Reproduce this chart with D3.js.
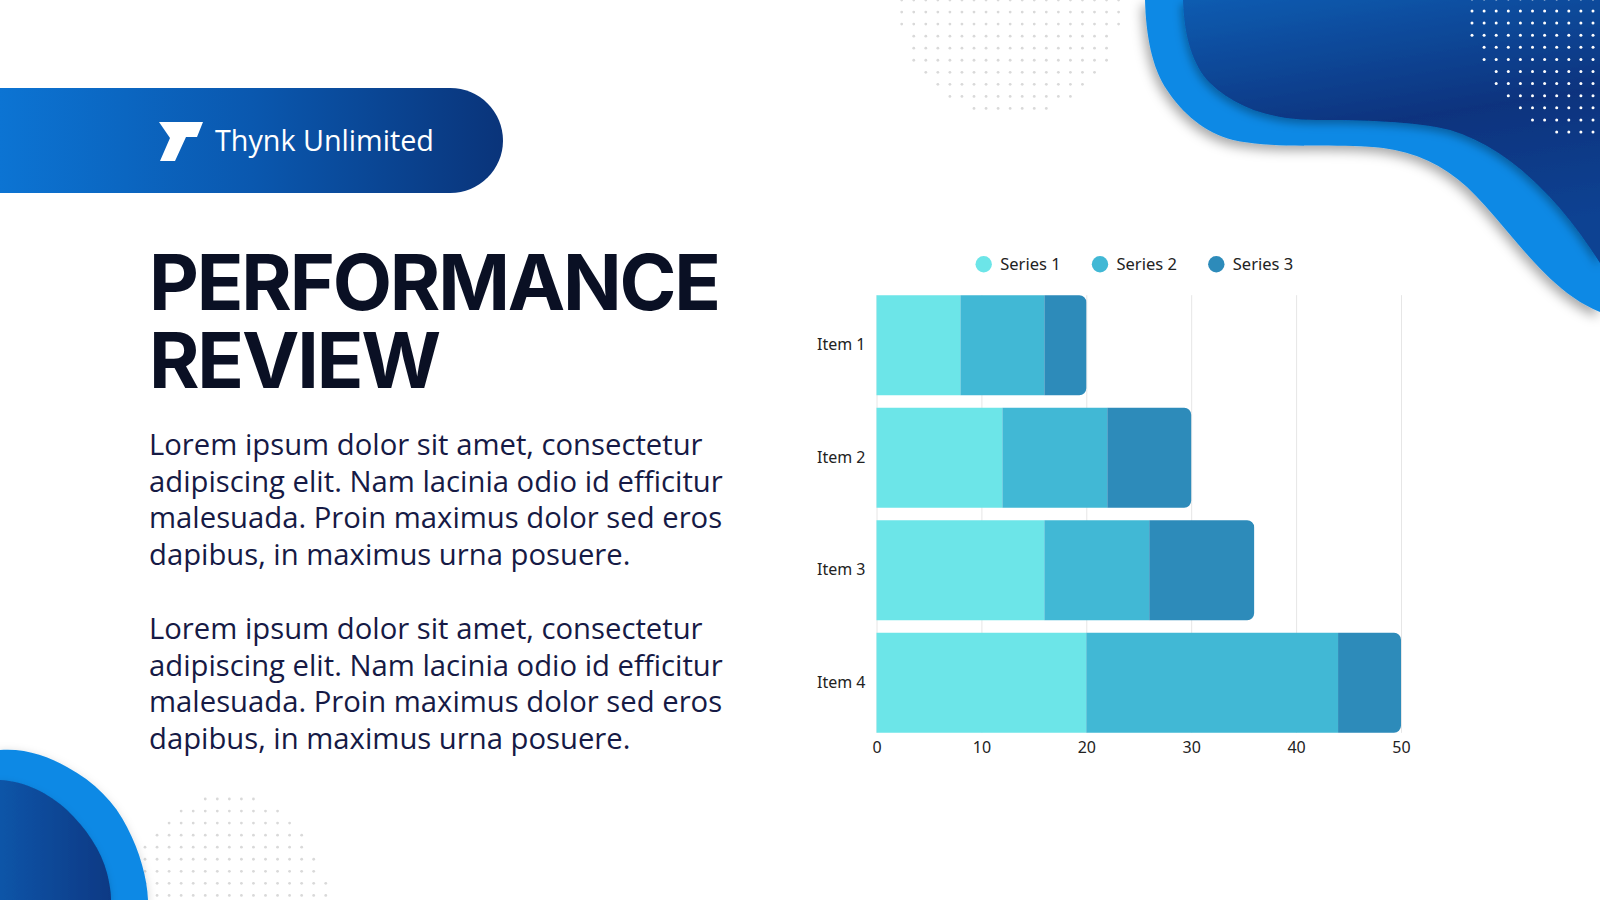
<!DOCTYPE html>
<html>
<head>
<meta charset="utf-8">
<script src="https://cdn.jsdelivr.net/npm/d3@7"></script>
<style>
  html, body { margin: 0; padding: 0; background: #ffffff; }
  svg { display: block; }
</style>
</head>
<body>
<div id="vis"></div>
<script>
// chart data
const items = ["Item 1", "Item 2", "Item 3", "Item 4"];
const seriesNames = ["Series 1", "Series 2", "Series 3"];
const series1 = [8, 12, 16, 20];
const series2 = [8, 10, 10, 24];
const series3 = [4, 8, 10, 6];
const xTicks = [0, 10, 20, 30, 40, 50];
const seriesColors = ["#6ce5e8", "#41b8d5", "#2d8bba"];

// slide texts
const brandName = "Thynk Unlimited";
const titleLines = ["PERFORMANCE", "REVIEW"];
const paragraph1 = [
  "Lorem ipsum dolor sit amet, consectetur",
  "adipiscing elit. Nam lacinia odio id efficitur",
  "malesuada. Proin maximus dolor sed eros",
  "dapibus, in maximus urna posuere."
];
const paragraph2 = [
  "Lorem ipsum dolor sit amet, consectetur",
  "adipiscing elit. Nam lacinia odio id efficitur",
  "malesuada. Proin maximus dolor sed eros",
  "dapibus, in maximus urna posuere."
];

const width = 1600;
const height = 900;

const svg = d3.select("#vis")
  .append("svg")
  .attr("width", width)
  .attr("height", height)
  .attr("viewBox", `0 0 ${width} ${height}`);

const defs = svg.append("defs");

function linearGradient(id, x1, y1, x2, y2, stops) {
  const g = defs.append("linearGradient")
    .attr("id", id)
    .attr("x1", x1).attr("y1", y1)
    .attr("x2", x2).attr("y2", y2);
  stops.forEach(([offset, color]) => {
    g.append("stop").attr("offset", offset).attr("stop-color", color);
  });
}

linearGradient("bannerGrad", 0, 0, 1, 0, [[0, "#0c74d3"], [0.5, "#0a58af"], [1, "#0a347a"]]);
linearGradient("blobGradTop", 0, 0, 0.25, 1, [[0, "#0b5cb1"], [0.55, "#09337e"], [1, "#0a4292"]]);
linearGradient("blobGradBottom", 0, 0, 1, 0, [[0, "#0b55a8"], [1, "#0a3984"]]);

function dropShadow(id, dx, dy, blur, opacity) {
  defs.append("filter")
    .attr("id", id)
    .attr("x", "-20%").attr("y", "-20%")
    .attr("width", "140%").attr("height", "140%")
    .append("feDropShadow")
    .attr("dx", dx).attr("dy", dy)
    .attr("stdDeviation", blur)
    .attr("flood-color", "#000")
    .attr("flood-opacity", opacity);
}
dropShadow("shadowOuter", -3, 5, 6, 0.35);
dropShadow("shadowInner", -2, 4, 4, 0.3);

// ---- decorative dot grids ----
function dotGrid(g, x0, y0, step, cols, rows, inside, color, r) {
  const pts = [];
  for (let j = 0; j < rows; j++) {
    for (let i = 0; i < cols; i++) {
      const px = x0 + i * step;
      const py = y0 + j * step;
      if (inside(px, py)) pts.push([px, py]);
    }
  }
  g.selectAll("circle")
    .data(pts)
    .join("circle")
    .attr("cx", (d) => d[0])
    .attr("cy", (d) => d[1])
    .attr("r", r)
    .attr("fill", color);
}

const deco = svg.append("g").attr("class", "deco");

dotGrid(deco.append("g"), 901.7, 0, 12.05, 20, 11,
  (px, py) => ((px - 1010) / 112) ** 2 + (py / 120) ** 2 <= 1,
  "#d9d9d9", 1.4);

dotGrid(deco.append("g"), 145, 799, 12.05, 16, 9,
  (px, py) => ((px - 228) / 100) ** 2 + ((py - 905) / 110) ** 2 <= 1,
  "#d9d9d9", 1.4);

// ---- top right blob ----
deco.append("path")
  .attr("d", "M1145,0 C1146,35 1152,68 1167,90 C1182,113 1205,133 1233,140 " +
    "C1280,150 1340,143 1383,148 C1415,152 1443,165 1467,187 " +
    "C1510,228 1545,290 1600,312 L1600,0 Z")
  .attr("fill", "#0e89e5")
  .attr("filter", "url(#shadowOuter)");

deco.append("path")
  .attr("d", "M1183,0 C1184,35 1192,65 1210,83 C1235,107 1270,120 1317,120 " +
    "C1360,120 1415,121 1450,130 C1510,148 1560,200 1600,263 L1600,0 Z")
  .attr("fill", "url(#blobGradTop)")
  .attr("filter", "url(#shadowInner)");

dotGrid(deco.append("g"), 1472, -1.1, 12.1, 11, 12,
  (px, py) => ((px - 1600) / 133) ** 2 + (py / 142) ** 2 <= 1,
  "#ffffff", 1.5);

// ---- bottom left blob ----
deco.append("path")
  .attr("d", "M0,750 C25,748 48,756 67,767 C95,782 115,803 127,827 " +
    "C140,852 147,878 148,900 L0,900 Z")
  .attr("fill", "#0e89e5")
  .attr("filter", "url(#shadowOuter)");

deco.append("path")
  .attr("d", "M0,780 C25,781 48,793 67,810 C86,828 101,850 107,873 " +
    "C110,885 111,893 111,900 L0,900 Z")
  .attr("fill", "url(#blobGradBottom)")
  .attr("filter", "url(#shadowInner)");

// ---- brand banner ----
const banner = svg.append("g").attr("class", "banner");
const bTop = 88, bBottom = 193, bRight = 503;
const bR = (bBottom - bTop) / 2;
banner.append("path")
  .attr("d", `M0,${bTop} H${bRight - bR} A${bR},${bR} 0 0 1 ${bRight - bR},${bBottom} H0 Z`)
  .attr("fill", "url(#bannerGrad)");

banner.append("path")
  .attr("d", "M159,122 L203,122 L197,137 L186,137 L175,161 L160,161 L170,138 Z")
  .attr("fill", "#ffffff");

const brandText = banner.append("text")
  .attr("x", 215)
  .attr("y", 151)
  .attr("font-family", "'Open Sans', sans-serif")
  .attr("font-size", 26)
  .attr("fill", "#ffffff")
  .text(brandName);

function fitFontSize(sel, target) {
  const fs = +sel.attr("font-size");
  const w = sel.node().getComputedTextLength();
  sel.attr("font-size", fs * target / w);
}
fitFontSize(brandText, 219);

// ---- title ----
const title = svg.append("g")
  .attr("font-family", "Inter, 'Open Sans', sans-serif")
  .attr("font-weight", 700)
  .attr("font-size", 77)
  .attr("fill", "#0a1024");

title.selectAll("text")
  .data(titleLines)
  .join("text")
  .attr("x", 149)
  .attr("y", (d, i) => 310 + i * 78)
  .text((d) => d);

const t0 = title.select("text");
const tw = t0.node().getComputedTextLength();
const spacing = (572 - tw) / (titleLines[0].length - 1);
title.attr("letter-spacing", spacing);

// ---- body paragraphs ----
const body = svg.append("g")
  .attr("font-family", "'Open Sans', sans-serif")
  .attr("font-size", 24)
  .attr("fill", "#161a45");

const bodyLines = paragraph1.map((t, i) => ({ t, y: 455 + i * 36.6 }))
  .concat(paragraph2.map((t, i) => ({ t, y: 639 + i * 36.6 })));

body.selectAll("text")
  .data(bodyLines)
  .join("text")
  .attr("x", 149)
  .attr("y", (d) => d.y)
  .text((d) => d.t);

const widest = d3.max(body.selectAll("text").nodes(), (n) => n.getComputedTextLength());
body.attr("font-size", 24 * 574 / widest);

// ---- stacked bar chart ----
const plot = { left: 876.5, right: 1401, top: 289, bottom: 739 };

const x = d3.scaleLinear()
  .domain([0, 50])
  .range([plot.left, plot.right]);

const y = d3.scaleBand()
  .domain(items)
  .range([plot.top, plot.bottom])
  .paddingInner(0.11)
  .paddingOuter(0.055);

const gridTop = y(items[0]);
const gridBottom = y(items[items.length - 1]) + y.bandwidth();

const chart = svg.append("g")
  .attr("class", "chart")
  .attr("font-family", "'Noto Sans', sans-serif");

chart.append("g")
  .attr("class", "grid")
  .attr("transform", `translate(0,${gridBottom})`)
  .call(d3.axisBottom(x)
    .tickValues(xTicks)
    .tickSize(-(gridBottom - gridTop))
    .tickFormat(""))
  .call((g) => g.select(".domain").remove())
  .call((g) => g.selectAll("line").attr("stroke", "#e6e6e6").attr("stroke-width", 1));

const rows = items.map((item, i) => ({
  item,
  "Series 1": series1[i],
  "Series 2": series2[i],
  "Series 3": series3[i]
}));

const stacked = d3.stack().keys(seriesNames)(rows);

const color = d3.scaleOrdinal()
  .domain(seriesNames)
  .range(seriesColors);

function roundRight(x0, y0, w, h, r) {
  r = Math.min(r, w, h / 2);
  return `M${x0},${y0}H${x0 + w - r}A${r},${r} 0 0 1 ${x0 + w},${y0 + r}` +
    `V${y0 + h - r}A${r},${r} 0 0 1 ${x0 + w - r},${y0 + h}H${x0}Z`;
}

const lastKey = seriesNames[seriesNames.length - 1];

chart.append("g")
  .attr("class", "bars")
  .selectAll("g")
  .data(stacked)
  .join("g")
  .attr("fill", (s) => color(s.key))
  .selectAll("path")
  .data((s) => s.map((d) => ({ d, key: s.key })))
  .join("path")
  .attr("d", ({ d, key }) => {
    const x0 = x(d[0]);
    const w = x(d[1]) - x(d[0]);
    const y0 = y(d.data.item);
    const h = y.bandwidth();
    return key === lastKey
      ? roundRight(x0, y0, w, h, 7)
      : `M${x0},${y0}h${w}v${h}h${-w}Z`;
  });

chart.append("g")
  .attr("class", "x-axis")
  .attr("transform", `translate(0,${gridBottom})`)
  .call(d3.axisBottom(x).tickValues(xTicks).tickSize(0).tickPadding(9))
  .call((g) => g.select(".domain").remove())
  .call((g) => g.selectAll("text")
    .attr("font-family", "'Noto Sans', sans-serif")
    .attr("font-size", 16)
    .attr("fill", "#222222"));

chart.append("g")
  .attr("class", "y-axis")
  .attr("transform", `translate(${plot.left},0)`)
  .call(d3.axisLeft(y).tickSize(0).tickPadding(11))
  .call((g) => g.select(".domain").remove())
  .call((g) => g.selectAll("text")
    .attr("font-family", "'Noto Sans', sans-serif")
    .attr("font-size", 16)
    .attr("fill", "#222222"));

// legend
const legendX = [983.7, 1100, 1216.3];
const legend = chart.append("g")
  .attr("class", "legend")
  .selectAll("g")
  .data(seriesNames)
  .join("g")
  .attr("transform", (d, i) => `translate(${legendX[i]},264.3)`);

legend.append("circle")
  .attr("r", 8.2)
  .attr("fill", (d) => color(d));

legend.append("text")
  .attr("x", 16.5)
  .attr("dy", "0.35em")
  .attr("font-size", 16.5)
  .attr("fill", "#222222")
  .text((d) => d);
</script>
</body>
</html>
